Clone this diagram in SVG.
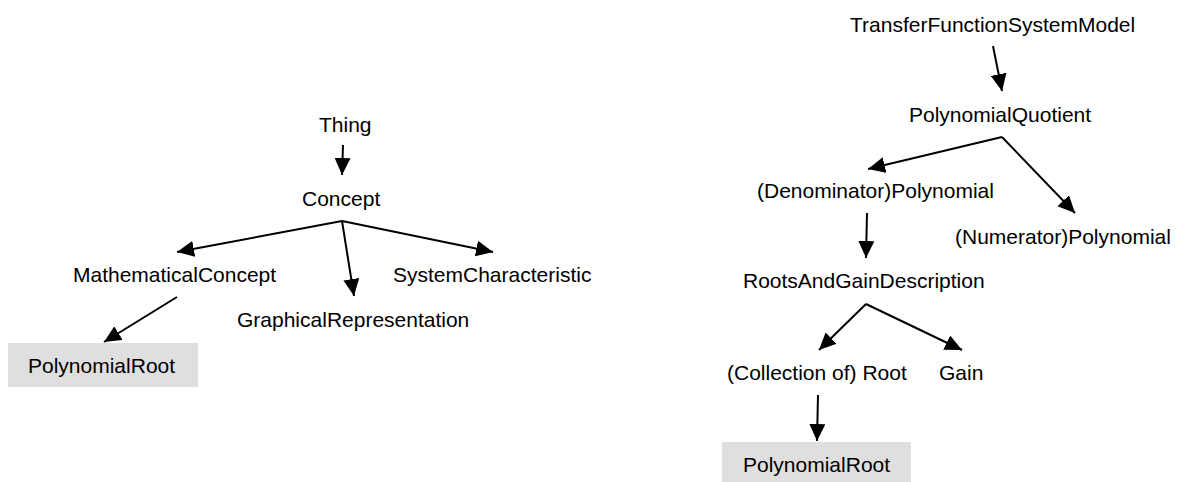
<svg xmlns="http://www.w3.org/2000/svg" width="1178" height="482" viewBox="0 0 1178 482">
<style>
text{font-family:"Liberation Sans",Arial,sans-serif;font-size:21px;fill:#000}
.e line{stroke:#000;stroke-width:2;marker-end:url(#ah)}
.box{fill:#dfdfdf}
</style>
<defs>
<marker id="ah" markerUnits="userSpaceOnUse" viewBox="0 0 17 16" refX="17" refY="8" markerWidth="17" markerHeight="16" orient="auto">
<path d="M0,0 L17,8 L0,16 z" fill="#000"/>
</marker>
</defs>
<rect width="1178" height="482" fill="#fff"/>
<g id="n-thing"><text x="319" y="132">Thing</text></g>
<g id="n-concept"><text x="302" y="206">Concept</text></g>
<g id="n-mathconcept"><text x="73" y="282">MathematicalConcept</text></g>
<g id="n-graphrep"><text x="237" y="327">GraphicalRepresentation</text></g>
<g id="n-syschar"><text x="393" y="282">SystemCharacteristic</text></g>
<g id="n-polyroot1"><rect class="box" x="8" y="343" width="190" height="44"/><text x="28" y="373">PolynomialRoot</text></g>
<g id="n-tfsm"><text x="850" y="32">TransferFunctionSystemModel</text></g>
<g id="n-pq"><text x="909" y="122">PolynomialQuotient</text></g>
<g id="n-denom"><text x="757" y="198">(Denominator)Polynomial</text></g>
<g id="n-numer"><text x="955" y="244">(Numerator)Polynomial</text></g>
<g id="n-rgd"><text x="743" y="288">RootsAndGainDescription</text></g>
<g id="n-coll"><text x="727" y="380">(Collection of) Root</text></g>
<g id="n-gain"><text x="939" y="380">Gain</text></g>
<g id="n-polyroot2"><rect class="box" x="722" y="442" width="189" height="44"/><text x="743" y="472">PolynomialRoot</text></g>
<g id="edges" class="e">
<line x1="343" y1="145" x2="342" y2="175"/>
<line x1="342" y1="221" x2="177" y2="252"/>
<line x1="342" y1="221" x2="354" y2="296"/>
<line x1="342" y1="221" x2="493" y2="252"/>
<line x1="177" y1="297" x2="104" y2="342"/>
<line x1="993" y1="46" x2="1002" y2="91"/>
<line x1="1002" y1="137" x2="868" y2="169"/>
<line x1="1002" y1="137" x2="1075" y2="213"/>
<line x1="867" y1="213" x2="866" y2="258"/>
<line x1="866" y1="304" x2="819" y2="350"/>
<line x1="866" y1="304" x2="962" y2="350"/>
<line x1="818" y1="395" x2="817" y2="441"/>
</g>
</svg>
